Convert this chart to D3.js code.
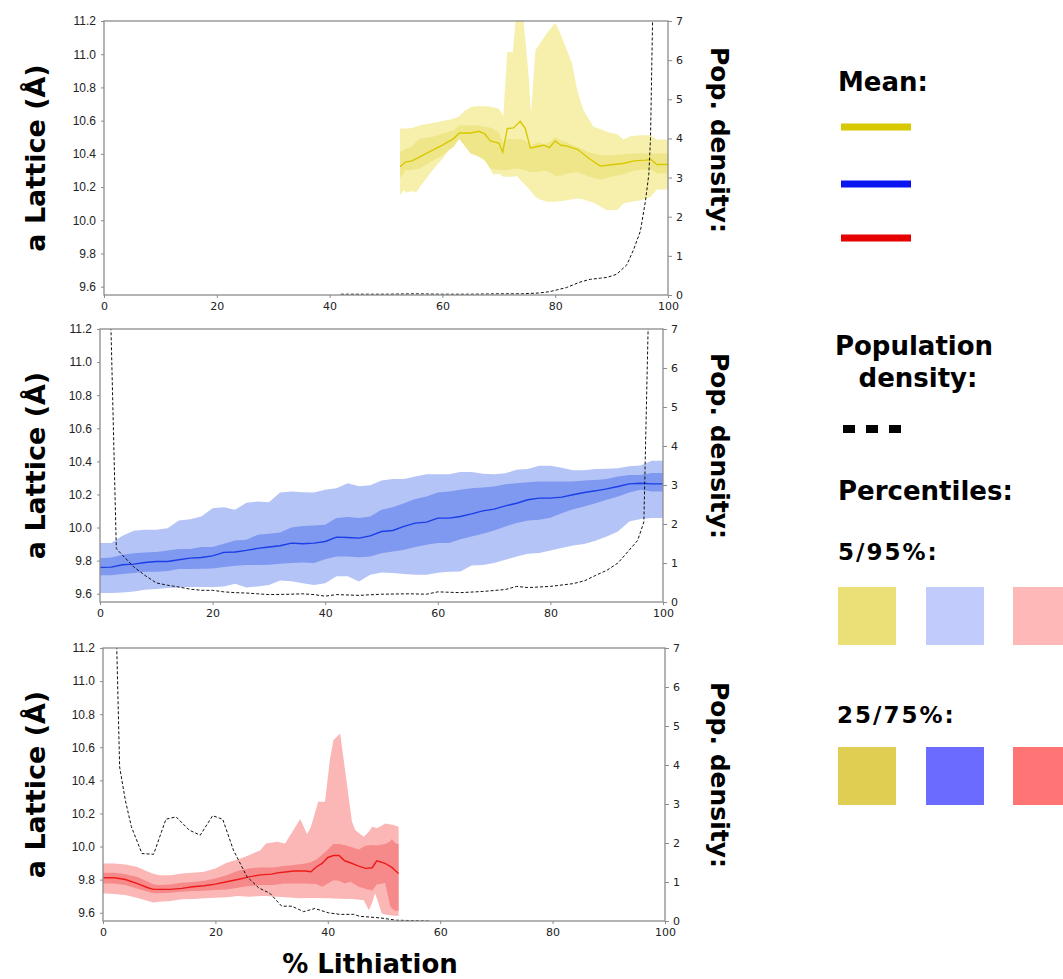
<!DOCTYPE html>
<html>
<head>
<meta charset="utf-8">
<script src="https://cdn.jsdelivr.net/npm/d3@7.9.0/dist/d3.min.js"></script>
<style>
  body { margin: 0; background: #fff; }
  svg { display: block; }
</style>
</head>
<body>
<svg id="chart" width="1063" height="979"></svg>
<script>
// ---- data: yellow (top) ----
const yellowX = [52.5, 53.5, 54.5, 56, 58, 60, 62, 63, 65, 66.5, 67.5, 68.5, 70, 70.7, 71.5, 72.6, 73.8, 74.7, 75.6, 77, 78, 79, 80, 81, 82, 84, 86, 88, 90, 92, 94, 96, 97, 98, 100];
const yellowMean = [10.322, 10.352, 10.356, 10.382, 10.418, 10.452, 10.492, 10.526, 10.526, 10.536, 10.52, 10.478, 10.465, 10.41, 10.552, 10.556, 10.596, 10.552, 10.434, 10.446, 10.452, 10.438, 10.478, 10.452, 10.448, 10.426, 10.372, 10.326, 10.334, 10.342, 10.358, 10.362, 10.366, 10.336, 10.336];
const yellowP75 = [10.412, 10.43, 10.442, 10.492, 10.5, 10.522, 10.542, 10.572, 10.572, 10.572, 10.562, 10.558, 10.53, 10.47, 10.49, 10.49, 10.49, 10.48, 10.45, 10.47, 10.46, 10.47, 10.5, 10.48, 10.47, 10.44, 10.41, 10.392, 10.392, 10.398, 10.402, 10.402, 10.402, 10.402, 10.402];
const yellowP25 = [10.252, 10.302, 10.302, 10.312, 10.352, 10.392, 10.442, 10.49, 10.402, 10.382, 10.36, 10.312, 10.302, 10.302, 10.302, 10.31, 10.31, 10.3, 10.29, 10.29, 10.3, 10.29, 10.266, 10.27, 10.28, 10.29, 10.262, 10.246, 10.262, 10.276, 10.3, 10.305, 10.305, 10.282, 10.282];
const yellowOuterX = [52.5, 53.1, 53.7, 54.6, 55.4, 56, 58, 60, 62, 63, 64, 65, 66, 67, 68, 69, 70, 70.8, 71.5, 72.5, 73.2, 74.1, 74.7, 75.3, 75.7, 76.5, 77.3, 78.5, 79.4, 80, 80.9, 82.1, 83, 83.9, 85, 86.8, 88.6, 89.2, 91, 92.1, 93.3, 95.1, 96.9, 98, 100];
const yellowP95 = [10.552, 10.552, 10.552, 10.556, 10.565, 10.572, 10.585, 10.598, 10.612, 10.626, 10.66, 10.68, 10.687, 10.687, 10.687, 10.68, 10.672, 10.63, 11.014, 11.014, 11.3, 11.3, 11.094, 10.863, 10.643, 11.024, 11.064, 11.124, 11.164, 11.188, 11.124, 11.024, 10.943, 10.783, 10.663, 10.563, 10.542, 10.532, 10.518, 10.486, 10.506, 10.512, 10.512, 10.486, 10.486];
const yellowP5 = [10.151, 10.181, 10.165, 10.175, 10.17, 10.2, 10.29, 10.37, 10.46, 10.512, 10.49, 10.442, 10.406, 10.386, 10.342, 10.276, 10.28, 10.262, 10.262, 10.262, 10.266, 10.232, 10.212, 10.19, 10.175, 10.14, 10.125, 10.111, 10.111, 10.111, 10.115, 10.121, 10.126, 10.131, 10.125, 10.105, 10.071, 10.06, 10.062, 10.101, 10.11, 10.121, 10.14, 10.185, 10.185];
const yellowDensX = [42, 50, 55, 60, 65, 70, 74, 77, 79, 82, 84.4, 86.2, 88, 89.2, 90.9, 92.7, 93.9, 95.1, 96, 96.6, 96.9, 97.3];
const yellowDens = [0.02, 0.02, 0.03, 0.02, 0.02, 0.03, 0.03, 0.05, 0.085, 0.19, 0.33, 0.40, 0.43, 0.45, 0.53, 0.77, 1.16, 1.63, 2.4, 3.08, 4.0, 7.3];

// ---- data: blue (middle) ----
const blueX = [0, 2, 4, 6, 8, 10, 12, 14, 16, 18, 20, 22, 24, 26, 28, 30, 32, 34, 36, 38, 40, 42, 44, 46, 48, 50, 52, 54, 56, 58, 60, 62, 64, 66, 68, 70, 72, 74, 76, 78, 80, 82, 84, 86, 88, 90, 92, 94, 96, 98, 100];
const blueMean = [9.759, 9.761, 9.775, 9.779, 9.789, 9.795, 9.795, 9.805, 9.815, 9.819, 9.829, 9.85, 9.852, 9.862, 9.874, 9.882, 9.89, 9.906, 9.902, 9.906, 9.916, 9.942, 9.94, 9.936, 9.95, 9.976, 9.982, 10.007, 10.027, 10.033, 10.057, 10.057, 10.067, 10.083, 10.101, 10.111, 10.131, 10.147, 10.168, 10.178, 10.178, 10.184, 10.198, 10.212, 10.222, 10.234, 10.248, 10.264, 10.268, 10.264, 10.264];
const blueP95 = [9.906, 9.906, 9.95, 9.98, 9.986, 9.986, 9.995, 10.043, 10.05, 10.067, 10.117, 10.123, 10.107, 10.15, 10.157, 10.153, 10.212, 10.218, 10.214, 10.212, 10.228, 10.238, 10.268, 10.25, 10.255, 10.285, 10.294, 10.294, 10.308, 10.322, 10.322, 10.322, 10.335, 10.335, 10.325, 10.322, 10.328, 10.35, 10.354, 10.373, 10.373, 10.361, 10.347, 10.347, 10.354, 10.356, 10.358, 10.37, 10.375, 10.403, 10.403];
const blueP75 = [9.815, 9.819, 9.835, 9.845, 9.849, 9.852, 9.862, 9.87, 9.87, 9.882, 9.882, 9.902, 9.922, 9.926, 9.956, 9.962, 9.97, 10.0, 10.009, 10.013, 10.017, 10.057, 10.063, 10.057, 10.067, 10.107, 10.123, 10.147, 10.172, 10.188, 10.212, 10.218, 10.228, 10.238, 10.242, 10.248, 10.262, 10.268, 10.274, 10.278, 10.278, 10.278, 10.278, 10.284, 10.288, 10.294, 10.308, 10.318, 10.318, 10.329, 10.329];
const blueP25 = [9.711, 9.711, 9.719, 9.725, 9.733, 9.733, 9.737, 9.749, 9.749, 9.751, 9.753, 9.761, 9.769, 9.773, 9.773, 9.775, 9.781, 9.785, 9.789, 9.785, 9.809, 9.825, 9.825, 9.821, 9.825, 9.845, 9.855, 9.866, 9.882, 9.896, 9.906, 9.906, 9.93, 9.946, 9.962, 9.982, 10.007, 10.027, 10.043, 10.047, 10.059, 10.087, 10.111, 10.127, 10.147, 10.168, 10.188, 10.212, 10.228, 10.218, 10.218];
const blueP5 = [9.604, 9.604, 9.608, 9.614, 9.624, 9.628, 9.634, 9.638, 9.64, 9.64, 9.64, 9.644, 9.66, 9.638, 9.644, 9.652, 9.68, 9.676, 9.664, 9.652, 9.664, 9.705, 9.705, 9.674, 9.715, 9.729, 9.725, 9.719, 9.715, 9.715, 9.727, 9.733, 9.735, 9.77, 9.774, 9.785, 9.805, 9.825, 9.842, 9.846, 9.862, 9.876, 9.892, 9.9, 9.92, 9.946, 9.976, 10.037, 10.051, 10.057, 10.057];
const blueDensX = [1.9, 2.9, 4, 6, 8, 10, 12, 14, 16, 18, 20, 22, 24, 26, 28, 30, 34, 36, 38, 40, 42, 46, 50, 55, 58, 60, 64, 68, 72, 74, 76, 78, 80, 84, 86, 88, 90, 92, 94, 95.5, 96.6, 97.4];
const blueDens = [7.3, 1.37, 1.2, 0.9, 0.68, 0.49, 0.43, 0.385, 0.33, 0.3, 0.3, 0.26, 0.24, 0.23, 0.21, 0.19, 0.2, 0.21, 0.19, 0.15, 0.19, 0.17, 0.2, 0.21, 0.2, 0.26, 0.24, 0.27, 0.32, 0.40, 0.37, 0.385, 0.40, 0.47, 0.54, 0.68, 0.81, 1.0, 1.33, 1.58, 2.05, 7.3];

// ---- data: red (bottom) ----
const redX = [0, 2, 4, 6, 8, 9, 10, 12, 14, 16, 18, 20, 22, 24, 26, 28, 30, 31, 32, 34, 36, 37, 38, 39, 40, 41, 42, 43, 44, 45.5, 46.7, 47.9, 48.7, 50.2, 51.1, 51.4, 52, 52.6];
const redMean = [9.811, 9.811, 9.801, 9.777, 9.751, 9.741, 9.741, 9.741, 9.747, 9.757, 9.763, 9.773, 9.787, 9.801, 9.817, 9.829, 9.833, 9.841, 9.845, 9.852, 9.852, 9.848, 9.878, 9.898, 9.934, 9.946, 9.946, 9.914, 9.902, 9.882, 9.868, 9.872, 9.914, 9.898, 9.88, 9.874, 9.855, 9.837];
const redP75 = [9.841, 9.841, 9.833, 9.817, 9.787, 9.771, 9.767, 9.771, 9.781, 9.785, 9.793, 9.807, 9.827, 9.853, 9.868, 9.874, 9.874, 9.876, 9.882, 9.888, 9.898, 9.905, 9.922, 9.95, 9.982, 10.015, 10.015, 10.01, 9.999, 9.982, 10.005, 10.009, 10.007, 10.015, 10.03, 10.045, 10.02, 10.015];
const redP25 = [9.777, 9.777, 9.767, 9.747, 9.727, 9.717, 9.717, 9.721, 9.727, 9.731, 9.733, 9.737, 9.741, 9.751, 9.761, 9.767, 9.767, 9.771, 9.777, 9.777, 9.777, 9.775, 9.773, 9.757, 9.777, 9.797, 9.793, 9.777, 9.787, 9.757, 9.745, 9.735, 9.77, 9.78, 9.64, 9.626, 9.612, 9.612];
const redOuterX = [0, 2, 4, 6, 8, 9, 10, 12, 14, 16, 18, 20, 22, 24, 26, 28, 29, 31, 32.4, 35.1, 36.3, 37, 38.3, 39.5, 40.4, 41, 42.2, 44.3, 44.9, 46.4, 47.3, 47.9, 48.4, 48.7, 49.6, 50.2, 51.7, 52.6];
const redP95 = [9.898, 9.898, 9.892, 9.878, 9.848, 9.835, 9.827, 9.827, 9.837, 9.841, 9.848, 9.868, 9.902, 9.922, 9.948, 9.978, 10.019, 10.029, 10.019, 10.167, 10.075, 10.12, 10.27, 10.27, 10.532, 10.642, 10.683, 10.15, 10.099, 10.059, 10.09, 10.119, 10.115, 10.11, 10.125, 10.14, 10.13, 10.12];
const redP5 = [9.717, 9.713, 9.707, 9.691, 9.671, 9.662, 9.666, 9.671, 9.681, 9.683, 9.687, 9.691, 9.693, 9.701, 9.697, 9.701, 9.701, 9.697, 9.693, 9.687, 9.689, 9.689, 9.689, 9.688, 9.687, 9.686, 9.685, 9.683, 9.682, 9.675, 9.615, 9.66, 9.717, 9.69, 9.596, 9.59, 9.582, 9.582];
const redDensX = [2.4, 2.96, 3.97, 5.04, 6.93, 9.0, 11.2, 13.0, 15.35, 17.3, 19.5, 21.3, 23.2, 25.6, 27.7, 29.7, 31.8, 33.6, 35.7, 37.7, 40.1, 42.2, 44.6, 45.7, 49.3, 52.2, 58.2];
const redDens = [7.3, 3.95, 3.10, 2.42, 1.73, 1.71, 2.61, 2.67, 2.33, 2.20, 2.70, 2.61, 1.82, 1.14, 0.85, 0.71, 0.38, 0.38, 0.24, 0.32, 0.21, 0.17, 0.17, 0.12, 0.08, 0.02, 0.0];

// axis ticks
const xTicks = [0, 20, 40, 60, 80, 100];
const latticeTicks = [9.6, 9.8, 10.0, 10.2, 10.4, 10.6, 10.8, 11.0, 11.2];
const densTicks = [0, 1, 2, 3, 4, 5, 6, 7];

// legend
const legendMeanColors = ['#d8c800', '#0a14f0', '#e60000'];
const legend595Colors = ['#ebdf78', '#c1cbfc', '#feb8b8'];
const legend2575Colors = ['#e0ce52', '#6b6bff', '#ff7575'];

const panels = [
  { name: 'yellow', box: { l: 104, r: 668, t: 21, b: 295 }, popY: 140,
    x: yellowX, mean: yellowMean, p25: yellowP25, p75: yellowP75,
    ox: yellowOuterX, p5: yellowP5, p95: yellowP95, dx: yellowDensX, dens: yellowDens,
    outer: '#f6f0ac', inner: '#efe68a', line: '#d8c800' },
  { name: 'blue', box: { l: 100, r: 663, t: 329, b: 602 }, popY: 446,
    x: blueX, mean: blueMean, p25: blueP25, p75: blueP75,
    ox: blueX, p5: blueP5, p95: blueP95, dx: blueDensX, dens: blueDens,
    outer: '#b4c4f6', inner: '#7f98f0', line: '#1a3ee8' },
  { name: 'red', box: { l: 103, r: 665, t: 648, b: 921 }, popY: 775,
    x: redX, mean: redMean, p25: redP25, p75: redP75,
    ox: redOuterX, p5: redP5, p95: redP95, dx: redDensX, dens: redDens,
    outer: '#fbb6b6', inner: '#f68a8a', line: '#ee1a1a' }
];

const svg = d3.select('#chart');
const frameColor = '#8c8c8c';
const titleFont = '"DejaVu Sans", Verdana, sans-serif';

panels.forEach((p, i) => {
  const b = p.box;
  const x = d3.scaleLinear().domain([0, 100]).range([b.l, b.r]);
  const y = d3.scaleLinear().domain([9.55, 11.2]).range([b.b, b.t]);
  const yR = d3.scaleLinear().domain([0, 7]).range([b.b, b.t]);

  svg.append('clipPath').attr('id', 'clip' + i)
    .append('rect').attr('x', b.l).attr('y', b.t)
    .attr('width', b.r - b.l).attr('height', b.b - b.t);

  const g = svg.append('g').attr('clip-path', `url(#clip${i})`);

  const outerArea = d3.area()
    .x((d, k) => x(p.ox[k]))
    .y0((d, k) => y(p.p5[k]))
    .y1((d, k) => y(p.p95[k]));
  g.append('path').datum(p.ox).attr('d', outerArea).attr('fill', p.outer);

  const innerArea = d3.area()
    .x((d, k) => x(p.x[k]))
    .y0((d, k) => y(p.p25[k]))
    .y1((d, k) => y(p.p75[k]));
  g.append('path').datum(p.x).attr('d', innerArea).attr('fill', p.inner);

  const meanLine = d3.line().x((d, k) => x(p.x[k])).y((d, k) => y(p.mean[k]));
  g.append('path').datum(p.x).attr('d', meanLine)
    .attr('fill', 'none').attr('stroke', p.line).attr('stroke-width', 1.4);

  const densLine = d3.line().x((d, k) => x(p.dx[k])).y((d, k) => yR(p.dens[k]));
  g.append('path').datum(p.dx).attr('d', densLine)
    .attr('fill', 'none').attr('stroke', '#111').attr('stroke-width', 1)
    .attr('stroke-dasharray', '3,2');

  // frame
  svg.append('rect').attr('x', b.l).attr('y', b.t)
    .attr('width', b.r - b.l).attr('height', b.b - b.t)
    .attr('fill', 'none').attr('stroke', frameColor).attr('stroke-width', 1.3);

  // axes
  const ax = svg.append('g').attr('transform', `translate(0,${b.b})`)
    .call(d3.axisBottom(x).tickValues(xTicks).tickSize(3).tickPadding(4));
  ax.selectAll('text').attr('font-family', titleFont).attr('font-size', 11).attr('fill', '#222');

  const ay = svg.append('g').attr('transform', `translate(${b.l},0)`)
    .call(d3.axisLeft(y).tickValues(latticeTicks).tickFormat(d3.format('.1f')).tickSize(3).tickPadding(5));
  ay.selectAll('text').attr('font-family', '"Liberation Sans Narrow", "Arial Narrow", sans-serif')
    .attr('font-size', 12).attr('fill', '#222');

  const ar = svg.append('g').attr('transform', `translate(${b.r},0)`)
    .call(d3.axisRight(yR).tickValues(densTicks).tickFormat(d3.format('d')).tickSize(4).tickPadding(4));
  ar.selectAll('text').attr('font-family', titleFont).attr('font-size', 11).attr('fill', '#222');

  [ax, ay, ar].forEach(a => {
    a.select('.domain').remove();
    a.selectAll('line').attr('stroke', frameColor);
  });

  // axis titles
  svg.append('text')
    .attr('transform', `translate(45,${(b.t + b.b) / 2}) rotate(-90)`)
    .attr('text-anchor', 'middle')
    .attr('font-family', titleFont).attr('font-weight', 'bold').attr('font-size', 27)
    .text('a Lattice (Å)');

  svg.append('text')
    .attr('transform', `translate(711,${p.popY}) rotate(90)`)
    .attr('text-anchor', 'middle')
    .attr('font-family', titleFont).attr('font-weight', 'bold').attr('font-size', 25)
    .text('Pop. density:');
});

svg.append('text').attr('x', 370).attr('y', 973)
  .attr('text-anchor', 'middle')
  .attr('font-family', titleFont).attr('font-weight', 'bold').attr('font-size', 26)
  .text('% Lithiation');

// ---- legend ----
const leg = svg.append('g').attr('font-family', titleFont).attr('font-weight', 'bold');

leg.append('text').attr('x', 838).attr('y', 91).attr('font-size', 26).text('Mean:');
[127, 184, 238].forEach((yy, k) => {
  leg.append('line').attr('x1', 841).attr('x2', 911).attr('y1', yy).attr('y2', yy)
    .attr('stroke', legendMeanColors[k]).attr('stroke-width', 7);
});

leg.append('text').attr('x', 914).attr('y', 355).attr('text-anchor', 'middle')
  .attr('font-size', 26).text('Population');
leg.append('text').attr('x', 918).attr('y', 387).attr('text-anchor', 'middle')
  .attr('font-size', 26).text('density:');
leg.append('line').attr('x1', 843).attr('x2', 905).attr('y1', 429).attr('y2', 429)
  .attr('stroke', '#000').attr('stroke-width', 8).attr('stroke-dasharray', '12,11');

leg.append('text').attr('x', 838).attr('y', 500).attr('font-size', 26).text('Percentiles:');
leg.append('text').attr('x', 838).attr('y', 560).attr('font-size', 23)
  .attr('letter-spacing', 2).text('5/95%:');
leg.append('text').attr('x', 837).attr('y', 723).attr('font-size', 23)
  .attr('letter-spacing', 2).text('25/75%:');

const sqX = [838, 926, 1013];
sqX.forEach((sx, k) => {
  leg.append('rect').attr('x', sx).attr('y', 587).attr('width', 58).attr('height', 58)
    .attr('fill', legend595Colors[k]);
  leg.append('rect').attr('x', sx).attr('y', 747).attr('width', 58).attr('height', 58)
    .attr('fill', legend2575Colors[k]);
});
</script>
</body>
</html>
